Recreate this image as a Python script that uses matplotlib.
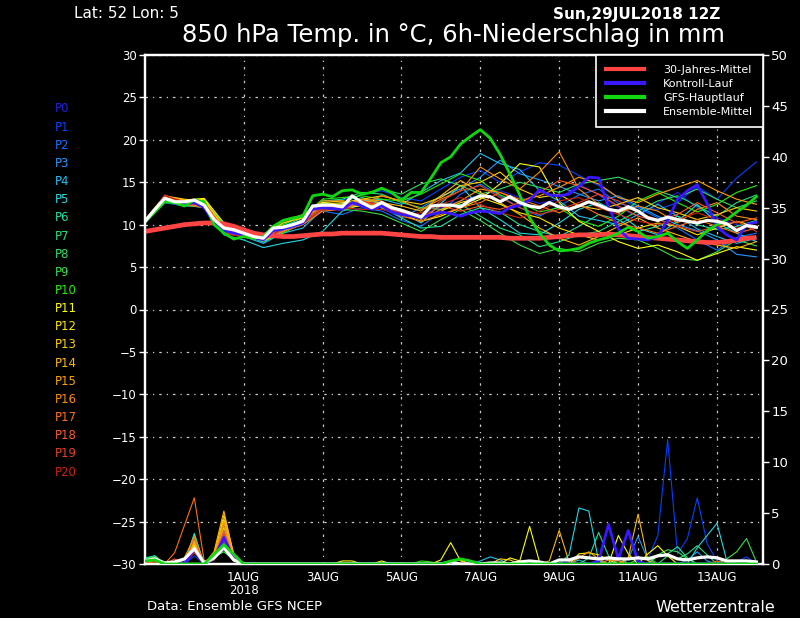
import matplotlib
matplotlib.use("Agg")
import matplotlib.pyplot as plt
from matplotlib.lines import Line2D

# ---------------- data ----------------
HOURS6 = list(range(0, 373, 6))     # forecast hours, 6h steps from Sun 29 JUL 2018 12Z
HOURS12 = list(range(0, 373, 12))   # 12h steps for the perturbed members

XTICK_HOURS = [60, 108, 156, 204, 252, 300, 348]
XTICK_LABELS = ["1AUG\n2018", "3AUG", "5AUG", "7AUG", "9AUG", "11AUG", "13AUG"]
MEMBER_NAMES = ["P%d" % i for i in range(21)]
MEMBER_COLORS = ["#2020e0", "#0040ff", "#1070ff", "#2098ff", "#20c0f0", "#20d8e0",
                 "#20e0a0", "#20e080", "#30e060", "#38e040", "#20f000", "#ffff00",
                 "#ffe800", "#ffd000", "#ffb800", "#ffa000", "#ff8c00", "#ff7010",
                 "#ff5828", "#e84020", "#cc2010"]

ens_mean = [10.4, 11.8, 13.1, 12.7, 12.7, 12.9, 12.3, 10.6, 9.6, 9.4, 9.0, 8.6, 8.4, 9.6,
            9.7, 10.0, 10.4, 12.2, 12.3, 12.3, 12.1, 13.4, 12.6, 12.0, 12.6, 12.0, 11.7,
            11.3, 10.9, 12.2, 12.3, 12.3, 12.1, 12.9, 13.4, 13.3, 12.7, 13.3, 12.6, 12.2,
            12.0, 12.6, 12.1, 11.8, 12.2, 12.7, 12.3, 11.8, 11.6, 12.1, 11.6, 10.8, 10.5,
            10.9, 10.6, 10.4, 10.2, 10.5, 10.4, 10.1, 9.3, 9.9, 9.7]
clim_30y = [9.2, 9.4, 9.6, 9.8, 10.0, 10.1, 10.2, 10.2, 10.1, 9.8, 9.4, 9.0, 8.8, 8.7,
            8.6, 8.6, 8.7, 8.8, 8.9, 8.9, 9.0, 9.0, 9.0, 9.0, 9.0, 8.9, 8.8, 8.7, 8.6, 8.6,
            8.5, 8.5, 8.5, 8.5, 8.5, 8.5, 8.5, 8.4, 8.4, 8.4, 8.4, 8.5, 8.6, 8.7, 8.8, 8.8,
            8.8, 8.9, 8.8, 8.7, 8.6, 8.5, 8.4, 8.3, 8.2, 8.1, 8.0, 7.9, 7.9, 8.0, 8.2, 8.4,
            8.5]
gfs_main = [10.3, 11.5, 12.7, 12.6, 12.2, 12.9, 12.7, 10.0, 9.0, 8.3, 8.6, 8.4, 8.6, 9.8,
            10.5, 10.8, 11.0, 13.4, 13.6, 13.3, 14.0, 14.1, 13.6, 13.8, 14.3, 13.8, 12.9,
            13.8, 13.8, 15.5, 17.3, 18.0, 19.5, 20.4, 21.2, 20.2, 18.3, 16.0, 13.5, 10.8,
            9.0, 7.6, 6.9, 7.0, 7.2, 7.8, 8.2, 8.5, 9.0, 9.7, 9.2, 8.4, 8.6, 9.0, 8.0, 7.2,
            8.2, 9.3, 10.0, 10.6, 11.5, 12.3, 13.3]
control = [10.3, 11.6, 12.8, 12.5, 12.4, 12.6, 12.0, 10.2, 9.3, 9.0, 8.8, 8.5, 8.2, 9.3,
           9.5, 9.8, 10.2, 11.8, 12.0, 11.9, 11.8, 12.6, 12.2, 11.8, 12.2, 11.5, 11.2,
           11.0, 10.8, 11.2, 11.5, 11.3, 11.0, 11.4, 11.6, 11.5, 11.3, 12.0, 12.3, 12.9,
           14.1, 13.5, 13.4, 13.6, 14.5, 15.6, 15.5, 12.1, 9.5, 8.4, 8.3, 8.2, 8.6, 10.5,
           13.0, 14.0, 14.7, 12.5, 9.7, 8.8, 8.2, 10.0, 10.3]

members_temp = [
    [10.2, 12.9, 12.4, 12.6, 9.3, 8.8, 8.2, 9.6, 10.6, 12.1, 12.0, 12.6, 12.8, 11.5, 11.2, 12.0, 12.8, 13.5, 14.0, 13.2, 12.5, 13.0, 14.8, 13.5, 12.0, 11.0, 12.5, 13.8, 12.0, 10.8, 10.0, 9.5],
    [10.4, 13.0, 12.3, 12.9, 9.8, 9.3, 8.6, 9.9, 11.2, 12.8, 12.9, 13.5, 14.0, 13.2, 12.8, 14.2, 15.6, 16.4, 15.0, 16.2, 17.3, 17.0, 15.8, 14.6, 13.2, 12.0, 11.8, 12.6, 14.5, 13.0, 15.5, 17.4],
    [10.5, 13.1, 12.8, 12.2, 9.4, 8.9, 7.9, 9.2, 10.0, 11.6, 11.2, 12.0, 11.6, 10.5, 9.8, 11.5, 13.6, 14.8, 13.4, 12.0, 11.0, 12.2, 13.5, 14.2, 12.5, 12.0, 10.8, 9.6, 8.2, 7.0, 8.5, 9.0],
    [10.3, 12.7, 12.5, 12.5, 9.2, 9.0, 8.0, 9.4, 10.2, 12.5, 12.4, 12.2, 12.0, 10.8, 12.0, 13.4, 14.2, 15.6, 17.6, 16.0, 15.3, 14.5, 13.6, 12.8, 13.4, 12.2, 11.0, 10.0, 9.3, 8.2, 6.5, 6.2],
    [10.2, 12.8, 12.6, 12.0, 9.5, 8.6, 7.8, 9.0, 9.6, 11.8, 12.0, 12.8, 13.0, 12.4, 13.8, 15.2, 16.1, 18.4, 17.2, 16.5, 14.0, 12.8, 11.0, 10.5, 10.0, 11.2, 12.4, 11.0, 9.5, 8.6, 7.8, 8.4],
    [10.3, 12.6, 12.2, 12.2, 8.8, 8.2, 7.3, 7.8, 8.2, 9.2, 11.6, 12.4, 12.6, 11.5, 10.2, 12.5, 14.6, 12.0, 10.6, 9.0, 8.8, 10.2, 11.8, 12.6, 11.4, 9.6, 8.8, 10.4, 12.4, 10.2, 9.0, 8.0],
    [10.4, 12.9, 12.7, 12.6, 9.6, 9.1, 8.5, 9.8, 10.8, 12.6, 12.3, 13.2, 12.5, 10.8, 9.6, 9.8, 11.2, 12.0, 11.5, 10.0, 9.2, 8.6, 9.8, 11.2, 10.6, 9.2, 9.8, 11.0, 10.0, 9.4, 9.8, 10.5],
    [10.5, 13.2, 12.8, 12.9, 10.0, 9.4, 8.9, 10.2, 11.0, 12.8, 13.0, 13.8, 13.6, 12.6, 12.0, 11.8, 12.4, 11.0, 9.6, 8.8, 7.4, 8.0, 8.8, 9.2, 10.4, 11.6, 12.8, 13.4, 12.2, 11.0, 12.6, 13.5],
    [10.3, 13.0, 12.6, 12.4, 9.7, 9.2, 8.6, 9.8, 10.5, 12.2, 12.5, 13.6, 14.2, 13.6, 14.8, 15.4, 14.6, 13.6, 14.2, 15.0, 14.4, 13.8, 14.8, 15.2, 15.6, 14.8, 14.0, 13.2, 14.2, 13.0, 12.0, 12.8],
    [10.2, 12.8, 12.3, 12.0, 9.0, 8.7, 8.0, 9.0, 10.2, 12.0, 11.8, 11.6, 11.2, 10.2, 9.2, 10.6, 11.8, 10.5, 9.0, 7.6, 6.6, 7.2, 6.8, 7.8, 8.4, 8.2, 7.2, 6.0, 5.8, 6.8, 8.2, 7.5],
    [10.4, 13.0, 12.5, 12.8, 9.9, 9.3, 8.8, 10.0, 11.0, 13.0, 13.2, 13.4, 13.0, 12.8, 13.6, 14.8, 16.0, 15.2, 13.5, 12.6, 11.5, 12.0, 10.5, 9.8, 11.0, 12.8, 13.8, 12.6, 11.5, 12.4, 13.8, 14.6],
    [10.5, 13.3, 12.9, 13.1, 10.2, 9.0, 8.1, 9.2, 10.6, 12.6, 12.8, 12.4, 12.0, 11.2, 10.4, 11.0, 12.0, 13.0, 14.8, 17.2, 16.8, 12.6, 10.4, 9.2, 8.0, 7.2, 7.6, 6.8, 5.8, 6.6, 7.4, 7.0],
    [10.4, 13.2, 12.8, 13.0, 9.6, 9.2, 8.4, 9.6, 10.4, 12.4, 12.0, 12.2, 12.4, 11.8, 11.0, 11.6, 12.6, 13.2, 12.4, 11.4, 10.8, 9.6, 8.8, 8.2, 8.8, 9.6, 10.2, 9.8, 8.8, 9.6, 10.4, 9.8],
    [10.6, 13.4, 13.0, 12.8, 9.8, 9.0, 8.6, 10.2, 10.8, 12.4, 12.6, 13.0, 13.4, 12.8, 12.4, 13.2, 14.6, 15.0, 16.2, 14.2, 13.2, 13.6, 12.2, 11.8, 12.4, 13.2, 12.0, 11.4, 10.6, 11.2, 12.0, 11.6],
    [10.3, 12.9, 12.6, 12.4, 9.3, 8.9, 8.3, 9.5, 10.6, 12.2, 12.4, 12.8, 12.6, 12.2, 11.6, 13.4, 15.2, 13.8, 12.6, 11.2, 9.6, 8.4, 7.6, 8.6, 9.8, 10.8, 9.6, 8.8, 8.0, 7.6, 7.2, 8.0],
    [10.4, 13.0, 12.4, 12.2, 9.2, 8.8, 8.7, 9.8, 10.2, 11.8, 12.2, 13.0, 12.8, 11.6, 10.6, 11.8, 12.8, 14.2, 13.8, 12.8, 13.4, 14.4, 15.6, 14.8, 13.2, 12.6, 13.6, 14.4, 15.2, 14.0, 13.0, 12.4],
    [10.5, 13.1, 12.6, 12.6, 9.6, 9.2, 8.8, 10.4, 11.2, 12.8, 12.8, 12.4, 13.4, 12.8, 11.8, 13.0, 14.0, 16.8, 15.4, 14.2, 16.2, 18.6, 14.2, 12.4, 11.4, 12.2, 11.6, 10.2, 11.8, 12.6, 11.0, 10.6],
    [10.2, 12.9, 12.4, 12.0, 9.0, 8.6, 8.2, 9.2, 10.0, 11.6, 11.8, 12.6, 12.2, 11.0, 10.4, 11.2, 12.0, 12.6, 13.8, 13.0, 12.2, 11.4, 12.4, 11.2, 10.2, 9.6, 9.0, 9.8, 10.6, 9.8, 9.0, 9.6],
    [10.4, 13.3, 12.8, 12.6, 9.4, 9.0, 8.4, 9.6, 10.5, 12.2, 12.0, 12.6, 12.4, 11.2, 10.8, 12.2, 11.6, 12.2, 11.8, 12.6, 13.8, 15.2, 14.6, 13.6, 12.2, 11.0, 10.4, 11.2, 12.6, 11.4, 10.2, 10.8],
    [10.3, 13.5, 12.5, 12.3, 9.1, 8.7, 8.3, 9.4, 10.4, 12.0, 12.2, 12.8, 12.2, 11.4, 11.0, 12.8, 14.0, 14.6, 13.2, 12.0, 11.2, 11.8, 12.6, 13.6, 12.8, 11.4, 10.6, 9.8, 9.2, 9.8, 10.4, 9.2],
    [10.4, 13.4, 12.7, 12.2, 8.9, 8.6, 8.2, 9.6, 10.2, 11.8, 12.0, 11.8, 11.8, 11.2, 11.4, 12.4, 13.2, 12.4, 11.4, 10.8, 11.6, 12.8, 13.2, 12.0, 11.2, 10.4, 10.0, 10.6, 11.4, 10.6, 9.6, 10.2],
]

# 6h precipitation (mm); hours not listed had 0 mm
members_precip = [
    {0: 0.3, 6: 0.4, 24: 0.3, 30: 1.2, 36: 0.2, 42: 0.6, 48: 2.2, 54: 0.5, 258: 0.3, 282: 0.6},
    {0: 0.4, 6: 0.5, 30: 0.8, 42: 0.8, 48: 2.8, 54: 0.6, 300: 0.4, 306: 0.5, 312: 2.8, 318: 12.2, 324: 1.0, 330: 2.5, 336: 6.5, 342: 2.0, 348: 0.3, 360: 0.2, 366: 0.7},
    {0: 0.3, 6: 0.6, 30: 1.6, 42: 0.5, 48: 3.4, 54: 0.4, 288: 0.4, 294: 3.3, 300: 0.3},
    {0: 0.2, 6: 0.5, 30: 2.1, 42: 0.6, 48: 4.0, 54: 0.7, 294: 0.5, 300: 2.7, 306: 0.4, 330: 0.4, 336: 1.2, 342: 0.3},
    {0: 0.4, 6: 0.7, 30: 2.4, 42: 0.7, 48: 3.0, 54: 0.8, 204: 0.3, 210: 0.7, 216: 0.4, 228: 0.2, 264: 0.4},
    {0: 0.5, 6: 0.8, 30: 2.9, 42: 0.4, 48: 1.8, 54: 0.4, 258: 0.9, 264: 5.5, 270: 5.2, 276: 0.3, 288: 0.8, 336: 1.6, 342: 2.8, 348: 4.0, 354: 0.3},
    {0: 0.6, 6: 0.8, 30: 3.0, 42: 0.9, 48: 2.4, 54: 0.5, 270: 0.6, 276: 3.1, 282: 0.8, 312: 0.8, 318: 1.0, 324: 1.7, 330: 0.6},
    {0: 0.4, 6: 0.6, 30: 2.6, 42: 0.8, 48: 2.0, 54: 0.5, 318: 0.8, 324: 0.5, 330: 1.0, 336: 1.8, 342: 0.9},
    {0: 0.3, 6: 0.5, 30: 1.8, 42: 0.5, 48: 1.6, 54: 0.3, 312: 0.9, 318: 1.4, 324: 1.2, 330: 0.5},
    {0: 0.5, 6: 0.6, 30: 2.2, 42: 0.7, 48: 1.2, 54: 0.4, 354: 0.5, 360: 1.2, 366: 2.5, 372: 0.2},
    {0: 0.4, 6: 0.7, 30: 1.4, 42: 0.6, 48: 2.6, 54: 0.6, 168: 0.3, 174: 0.2, 300: 0.5, 306: 0.7},
    {0: 0.3, 6: 0.5, 30: 1.9, 42: 0.9, 48: 3.6, 54: 0.9, 120: 0.3, 126: 0.3, 144: 0.3, 180: 0.4, 186: 2.1, 192: 0.3, 222: 0.6, 228: 0.3, 234: 3.7, 240: 0.2, 288: 2.8, 294: 1.0, 306: 1.0, 312: 1.8, 318: 0.8},
    {0: 0.2, 6: 0.4, 30: 1.7, 42: 1.0, 48: 4.4, 54: 0.7, 264: 1.0, 270: 1.1, 276: 0.9, 282: 0.4},
    {0: 0.3, 6: 0.5, 30: 2.3, 42: 0.8, 48: 4.8, 54: 1.0, 186: 0.3, 192: 0.4, 216: 0.5, 222: 0.4},
    {0: 0.4, 6: 0.6, 30: 2.0, 42: 1.2, 48: 5.2, 54: 0.8, 246: 0.3, 252: 3.3, 258: 0.2, 294: 0.6, 300: 4.9, 306: 0.3},
    {0: 0.3, 6: 0.4, 30: 1.3, 42: 0.9, 48: 4.2, 54: 0.6, 264: 0.6, 270: 1.2, 276: 0.5},
    {0: 0.2, 6: 0.3, 24: 0.6, 30: 2.7, 42: 0.7, 48: 3.8, 54: 0.5, 282: 0.4, 288: 0.3},
    {0: 0.1, 6: 0.2, 18: 1.1, 24: 3.8, 30: 6.5, 36: 0.3, 42: 0.5, 48: 2.4, 54: 0.4, 348: 0.3},
    {0: 0.3, 6: 0.4, 18: 0.5, 30: 2.5, 42: 0.6, 48: 3.2, 54: 0.5, 354: 0.2},
    {0: 0.2, 6: 0.3, 30: 1.5, 42: 0.4, 48: 2.9, 54: 0.6},
    {0: 0.3, 6: 0.4, 30: 1.1, 42: 0.5, 48: 2.0, 54: 0.3},
]
control_precip = {0: 0.3, 6: 0.5, 30: 1.5, 42: 0.6, 48: 2.6, 54: 0.5, 276: 0.3, 282: 3.9, 288: 0.5, 294: 3.3, 300: 0.2}
gfs_precip = {0: 0.3, 6: 0.4, 42: 0.95, 48: 1.9, 54: 0.95, 186: 0.3, 192: 0.5, 198: 0.3}
mean_precip = {0: 0.3, 6: 0.5, 12: 0.1, 18: 0.2, 24: 0.5, 30: 1.5, 36: 0.1, 42: 0.6, 48: 1.6, 54: 0.4,
               186: 0.2, 210: 0.1, 216: 0.1, 228: 0.2, 234: 0.3, 240: 0.2, 252: 0.4, 258: 0.4,
               264: 0.7, 270: 0.6, 276: 0.5, 282: 0.6, 288: 0.5, 294: 0.5, 300: 0.6, 306: 0.5,
               312: 0.8, 318: 0.9, 324: 0.5, 330: 0.4, 336: 0.6, 342: 0.7, 348: 0.6, 354: 0.3,
               360: 0.3, 366: 0.3, 372: 0.2}

LEGEND_LABELS = ["30-Jahres-Mittel", "Kontroll-Lauf", "GFS-Hauptlauf", "Ensemble-Mittel"]


def full_series(sparse):
    return [sparse.get(h, 0.0) for h in HOURS6]


# ---------------- figure ----------------
W, H = 800, 618
fig = plt.figure(figsize=(8, 6.18), dpi=100, facecolor="black")
ax = fig.add_axes([145 / W, 1 - 564 / H, (763 - 145) / W, (564 - 55) / H])
ax.set_facecolor("black")
ax2 = ax.twinx()

# colors
C_CLIM = "#ff4444"
C_CTRL = "#3a18ff"
C_GFS = "#10d810"
C_MEAN = "white"

# temperature
for vals, col in zip(members_temp, MEMBER_COLORS):
    ax.plot(HOURS12, vals, color=col, lw=0.8, zorder=2)
ax.plot(HOURS6, clim_30y, color=C_CLIM, lw=3.4, zorder=3, solid_capstyle="butt")
ax.plot(HOURS6, control, color=C_CTRL, lw=2.0, zorder=4)
ax.plot(HOURS6, gfs_main, color=C_GFS, lw=2.0, zorder=5)
ax.plot(HOURS6, ens_mean, color=C_MEAN, lw=2.3, zorder=6)

# precipitation
for sp, col in zip(members_precip, MEMBER_COLORS):
    ax2.plot(HOURS6, full_series(sp), color=col, lw=0.8, zorder=2)
ax2.plot(HOURS6, full_series(control_precip), color=C_CTRL, lw=2.0, zorder=4)
ax2.plot(HOURS6, full_series(mean_precip), color=C_MEAN, lw=2.3, zorder=5)
ax2.plot(HOURS6, full_series(gfs_precip), color=C_GFS, lw=2.0, zorder=6)

ax.set_xlim(0, 376)
ax.set_ylim(-30, 30)
ax2.set_ylim(0, 50)

ax.set_yticks(range(-30, 31, 5))
ax2.set_yticks(range(0, 51, 5))
ax.set_xticks(XTICK_HOURS)
ax.set_xticklabels(XTICK_LABELS, linespacing=1.0)

ax.grid(True, color="#c8c8c8", lw=0.9, linestyle=(0, (2, 4, 1, 4)))
ax.set_axisbelow(True)

for a in (ax, ax2):
    for s in a.spines.values():
        s.set_color("white")
        s.set_linewidth(1.6)
ax.tick_params(axis="y", colors="white", labelsize=8.5, length=4, width=1, direction="out", pad=2)
ax2.tick_params(axis="y", colors="white", labelsize=9.5, length=4, width=1, direction="out", pad=2)
ax.tick_params(axis="x", colors="white", labelsize=8.5, length=0, pad=5)
ax.tick_params(axis="x", which="both", top=False)

# legend
handles = [Line2D([], [], color=C_CLIM, lw=3.0),
           Line2D([], [], color=C_CTRL, lw=3.0),
           Line2D([], [], color=C_GFS, lw=3.0),
           Line2D([], [], color=C_MEAN, lw=3.0)]
leg = ax2.legend(handles, LEGEND_LABELS, loc="upper right", bbox_to_anchor=(1.0, 1.0),
                 borderaxespad=0, fontsize=8, frameon=True, fancybox=False,
                 handlelength=3.4, handletextpad=1.7, borderpad=0.9, labelspacing=0.35)
leg.get_frame().set_facecolor("black")
leg.get_frame().set_edgecolor("white")
leg.get_frame().set_linewidth(1.2)
leg.get_frame().set_alpha(1)
for t in leg.get_texts():
    t.set_color("white")

# texts
fig.text(74 / W, 1 - 14 / H, "Lat: 52 Lon: 5", color="white", fontsize=11, va="center", ha="left")
fig.text(720 / W, 1 - 14 / H, "Sun,29JUL2018 12Z", color="white", fontsize=11, va="center",
         ha="right", fontweight="bold")
fig.text(453 / W, 1 - 35 / H, "850 hPa Temp. in °C, 6h-Niederschlag in mm", color="white",
         fontsize=17.5, va="center", ha="center")
fig.text(147 / W, 1 - 607 / H, "Data: Ensemble GFS NCEP", color="white", fontsize=9.5,
         va="center", ha="left")
fig.text(775 / W, 1 - 607 / H, "Wetterzentrale", color="white", fontsize=11.5, va="center",
         ha="right")

for i, (name, col) in enumerate(zip(MEMBER_NAMES, MEMBER_COLORS)):
    fig.text(55 / W, 1 - (109 + i * 18.15) / H, name, color=col, fontsize=8.5,
             va="center", ha="left")

fig.savefig("out.png", dpi=100, facecolor="black")
